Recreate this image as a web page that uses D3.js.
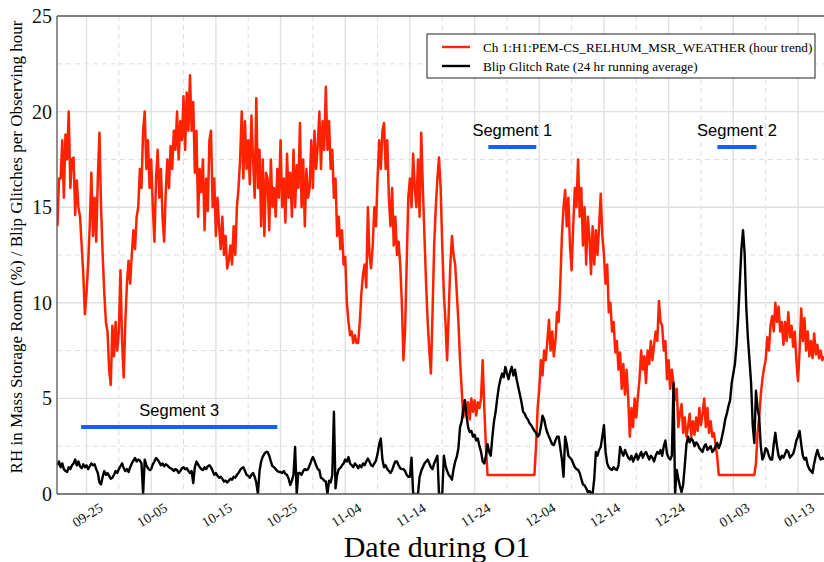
<!DOCTYPE html>
<html>
<head>
<meta charset="utf-8">
<script src="https://cdn.jsdelivr.net/npm/d3@7"></script>
<style>
  body { margin: 0; background: #fff; }
  svg { display: block; }
</style>
</head>
<body>
<svg id="chart" width="824" height="562"></svg>
<script>
// one value every 6 hours
const STEP_HOURS = 6;

// RH in mass storage room (%), hour trend
const rhSep = [ // from 09-20 12:00
  14.0, 16.5,
  16.5, 18.5, 15.5, 18.8,  17.5, 20.0, 16.0, 17.5,  17.6, 14.6, 16.4, 15.0,  14.5, 13.0, 11.5, 9.4,
  10.5, 12.0, 14.0, 16.8,  13.5, 15.5, 13.2, 16.5,  18.9, 15.0, 12.5, 10.5,  9.0, 8.5, 6.5, 5.7,
  8.8, 7.2, 9.0, 7.5,  8.5, 11.7, 8.0, 6.1
];
const rhOct = [
  9.0, 11.0, 12.2, 11.0,  12.5, 13.8, 12.8, 14.5,  15.0, 17.0, 16.0, 19.0,  20.0, 17.0, 18.5, 16.0,
  17.5, 15.0, 13.2, 16.5,  18.0, 15.5, 17.0, 14.5,  13.2, 15.8, 17.5, 16.0,  18.2, 17.0, 19.0, 18.0,
  20.0, 17.5, 19.5, 18.5,  20.8, 18.0, 21.0, 19.0,  21.9, 19.0, 20.5, 16.8,  19.0, 14.5, 17.0, 15.8,
  17.5, 13.8, 16.5, 14.8,  18.5, 19.0, 15.0, 16.5,  13.5, 15.5, 14.0, 12.8,  14.5, 12.5, 13.5, 11.8,
  12.2, 13.0, 12.0, 14.0,  12.5, 15.0, 16.0, 17.5,  20.0, 16.5, 19.5, 17.0,  18.5, 16.2, 19.8, 17.5,
  15.5, 20.7, 16.0, 18.0,  14.0, 17.5, 13.5, 16.8,  16.5, 13.8, 17.5, 15.0,  16.0, 14.5, 17.0, 15.5,
  18.5, 15.0, 16.5, 14.2,  17.8, 15.5, 16.8, 14.5,  18.0, 15.0, 17.2, 16.0,  19.4, 15.0, 17.5, 14.0,
  17.0, 15.5, 16.0, 18.5,  16.0, 19.0, 17.0, 18.2,  20.0, 17.0, 19.5, 18.0
];
const rhNov = [
  21.3, 18.0, 19.5, 17.0,  18.0, 15.5, 16.5, 13.5,  14.5, 12.8, 13.8, 12.0,  12.4, 10.0, 9.0, 8.3,
  8.5, 7.9, 8.3, 7.9,  7.9, 9.0, 10.5, 11.5,  12.0, 10.8, 15.0, 12.5,  11.8, 13.0, 15.0, 14.0,
  16.5, 18.5, 17.0, 19.0,  19.4, 17.0, 18.5, 15.5,  14.0, 16.0, 13.0, 14.5,  12.5, 13.2, 12.0, 10.0,
  7.0, 8.5, 12.0, 15.5,  16.5, 15.0, 17.8, 16.0,  15.0, 17.5, 14.5, 18.9,  16.0, 13.5, 11.0, 9.0,
  7.5, 6.3, 9.5, 13.0,  15.0, 16.5, 17.6, 16.0,  13.0, 10.5, 9.0, 7.0,  9.5, 12.0, 13.5, 12.5,
  12.0, 10.5, 9.0, 7.0,  5.5, 4.0, 4.9, 4.2,  4.8, 3.9, 5.0, 4.3,  4.9, 4.1, 4.8, 4.5,
  5.0, 7.0, 4.5, 2.5,  1.0, 1.0, 1.0, 1.0,  1.0, 1.0, 1.0, 1.0,  1.0, 1.0, 1.0, 1.0,
  1.0, 1.0, 1.0, 1.0,  1.0, 1.0, 1.0, 1.0
];
const rhDec = [
  1.0, 1.0, 1.0, 1.0,  1.0, 1.0, 1.0, 1.0,  1.0, 1.0, 2.5, 4.5,  5.5, 7.0, 6.2, 7.5,
  7.0, 8.0, 9.1, 7.5,  8.5, 7.2, 8.0, 9.5,  9.0, 11.0, 13.5, 15.0,  15.9, 14.0, 15.5, 13.0,
  11.7, 14.0, 16.0, 15.0,  17.5, 14.5, 16.0, 13.0,  15.0, 12.0, 14.5, 13.5,  11.5, 14.0, 12.0, 13.8,
  12.5, 14.0, 15.7, 13.5,  12.5, 11.0, 12.0, 9.5,  10.0, 8.5, 9.0, 7.4,  8.0, 6.5, 7.4, 5.5,
  6.8, 5.2, 6.5, 5.0,  3.0, 4.5, 3.5, 5.0,  4.0, 5.1, 6.0, 7.5,  6.5, 7.2, 5.8, 7.5,
  6.8, 8.0, 7.0, 7.8,  8.5, 8.0, 10.1, 9.0,  8.8, 7.5, 8.0, 6.0,  7.0, 5.5, 6.5, 5.8,
  4.9, 5.5, 3.5, 4.2,  4.7, 3.2, 4.0, 3.0,  3.5, 4.2, 3.0, 3.8,  3.1, 4.0, 3.3, 4.5,
  3.6, 4.2, 5.0, 3.5,  4.5, 3.2, 3.8, 3.0,  3.2, 2.6, 2.0, 1.0
];
const rhJan = [
  1.0, 1.0, 1.0, 1.0,  1.0, 1.0, 1.0, 1.0,  1.0, 1.0, 1.0, 1.0,  1.0, 1.0, 1.0, 1.0,
  1.0, 1.0, 1.0, 1.0,  1.0, 1.0, 1.6, 3.2,  4.0, 5.2, 6.0, 6.6,  7.0, 8.2, 7.5, 8.8,
  9.3, 8.5, 10.0, 9.0,  9.8, 8.5, 9.0, 7.8,  9.0, 8.0, 9.5, 8.2,  8.8, 7.7, 8.5, 7.0,
  5.9, 7.5, 9.7, 8.0,  9.2, 7.5, 8.5, 7.2,  8.0, 7.1, 8.4, 7.3,  7.8, 7.1, 7.5, 7.0,
  7.2
];

// blip glitches per observing hour, 24 hr running average
const blipSep = [
  1.5, 1.7,
  1.4, 1.6, 1.3, 1.2,  1.15, 1.4, 1.3, 1.5,  1.6, 1.8, 1.5, 1.7,  1.45, 1.35, 1.55, 1.4,
  1.5, 1.3, 1.45, 1.6,  1.5, 1.55, 1.3, 1.1,  0.6, 0.5, 0.9, 1.2,  1.0, 1.1, 0.95, 0.8,
  0.85, 1.0, 1.2, 1.1,  1.3, 1.45, 1.6, 1.35
];
const blipOct = [
  1.2, 1.3, 1.15, 1.4,  1.6, 1.75, 1.88, 1.7,  1.8, 1.75, 1.6, 0.0,  1.8, 1.5, 1.35, 1.25,
  1.3, 1.55, 1.7, 1.88,  1.8, 1.65, 1.5, 1.6,  1.45, 1.55, 1.5, 1.4,  1.35, 1.3, 1.2, 1.3,
  1.25, 1.1, 1.2, 1.35,  1.4, 1.3, 1.35, 1.2,  1.1, 1.2, 0.57, 1.4,  1.7, 1.55, 1.4, 1.3,
  1.25, 1.4, 1.3, 1.45,  1.5, 1.4, 1.2, 1.0,  1.1, 0.95, 0.85, 0.9,  0.8, 0.65, 0.7, 0.6,
  0.7, 0.8, 0.75, 0.9,  0.85, 1.0, 1.1, 1.25,  1.35, 1.4, 1.2, 1.0,  0.95, 0.85, 1.0, 1.1,
  0.9, 0.6, 0.0, 1.2,  1.7, 1.95, 2.1, 2.2,  2.2, 2.0, 1.7, 1.45,  1.4, 1.3, 1.2, 1.15,
  1.15, 1.1, 1.2, 1.05,  1.0, 0.8, 0.47, 0.7,  1.0, 2.46, 0.0, 1.1,  1.1, 1.0, 1.2, 1.3,
  1.25, 1.3, 1.5, 1.75,  1.93, 1.75, 1.5, 1.3,  1.25, 0.84, 0.8, 0.7
];
const blipNov = [
  0.65, 0.0, 0.7, 0.6,  1.0, 4.3, 0.3, 1.0,  1.3, 1.36, 1.5, 1.6,  1.8, 1.7, 1.93, 1.6,
  1.5, 1.4, 1.6, 1.5,  1.35, 1.5, 1.4, 1.6,  1.5, 1.7, 1.85, 1.7,  1.5, 1.45, 1.6, 1.75,
  2.1, 2.6, 2.9, 1.8,  1.4, 1.5, 1.3, 1.2,  1.1, 1.25, 1.5, 1.7,  1.7, 1.5, 1.35, 1.3,
  1.3, 1.2, 1.0, 0.9,  0.9, 1.9, 0.0, 0.0,  0.0, 0.0, 0.9, 1.2,  1.4, 1.6, 1.7, 1.8,
  1.6, 1.4, 1.3, 1.6,  1.8, 2.0, 0.0, 0.0,  0.0, 2.0, 1.5, 1.2,  1.0, 0.9, 0.75, 1.3,
  1.7, 1.95, 2.4, 3.5,  3.8, 4.4, 4.9, 4.1,  3.5, 3.24, 3.3, 3.0,  3.1, 2.8, 2.9, 2.5,
  2.2, 1.7, 1.6, 2.0,  2.6, 2.2, 2.0, 3.0,  3.8, 4.3, 5.0, 5.6,  6.0, 6.3, 6.1, 6.65,
  6.3, 6.0, 6.4, 6.65,  6.2, 6.5, 6.0, 5.6
];
const blipDec = [
  5.2, 4.8, 4.3, 4.2,  4.0, 3.9, 3.7, 3.6,  3.45, 3.3, 3.2, 3.0,  3.1, 3.5, 4.1, 3.9,
  3.5, 3.2, 3.0, 2.8,  2.6, 2.56, 2.8, 3.0,  3.0, 2.4, 1.8, 0.9,  3.0, 2.6, 2.0, 1.9,
  1.8, 1.6, 1.4, 1.3,  1.26, 1.1, 0.8, 0.5,  0.45, 0.3, 0.1, 0.15,  0.05, 0.0, 0.8, 2.2,
  2.0, 2.3, 2.46, 3.0,  3.6, 2.2, 1.6, 1.4,  1.3, 1.26, 1.4, 1.3,  1.26, 1.5, 2.46, 2.2,
  2.0, 2.3, 2.1, 1.9,  1.8, 2.0, 1.7, 1.9,  2.1, 1.8, 2.0, 2.2,  1.9, 2.1, 2.2, 2.0,
  1.8, 2.0, 1.9, 1.7,  2.0, 2.2, 2.1, 2.3,  2.0, 2.5, 2.8, 2.1,  1.9, 1.8, 2.0, 5.8,
  0.0, 1.26, 0.8, 0.4,  0.1, 0.5, 1.5, 2.6,  3.0, 2.7, 2.9, 2.8,  2.5, 2.7, 2.6, 2.4,
  2.3, 2.2, 2.5, 2.6,  2.3, 2.4, 2.5, 2.2,  2.3, 2.5, 2.67, 2.4
];
const blipJan = [
  2.6, 3.0, 3.4, 3.9,  4.2, 4.6, 4.9, 5.8,  6.3, 6.8, 7.8, 9.2,  11.0, 12.8, 13.8, 12.6,
  9.8, 8.2, 7.0, 5.8,  3.6, 2.66, 5.4, 4.5,  4.0, 2.5, 1.8, 2.0,  2.4, 2.3, 2.0, 1.8,
  1.8, 2.6, 3.2, 2.5,  2.0, 1.8, 2.0, 1.9,  2.1, 2.3, 2.2, 1.9,  2.0, 2.1, 2.4, 2.8,
  3.0, 3.3, 2.6, 2.0,  1.8, 1.9, 1.5, 1.3,  1.2, 1.1, 1.6, 2.0,  2.3, 2.0, 1.8, 1.9,
  1.8
];

const monthStarts = ["2015-09-20T12:00Z", "2015-10-01T00:00Z", "2015-11-01T00:00Z",
                     "2015-12-01T00:00Z", "2016-01-01T00:00Z"];

const xTickLabels = ["2015-09-25", "2015-10-05", "2015-10-15", "2015-10-25", "2015-11-04", "2015-11-14",
                     "2015-11-24", "2015-12-04", "2015-12-14", "2015-12-24", "2016-01-03", "2016-01-13"];
const yTicks = [0, 5, 10, 15, 20, 25];

const segNames = ["Segment 1", "Segment 2", "Segment 3"];
const segStart = ["2015-11-26T03:00Z", "2015-12-31T13:00Z", "2015-09-24T04:00Z"];
const segEnd = ["2015-12-03T13:00Z", "2016-01-06T14:00Z", "2015-10-24T12:00Z"];
const segLevel = [18.15, 18.15, 3.5];

const legendLabels = ["Ch 1:H1:PEM-CS_RELHUM_MSR_WEATHER (hour trend)",
                      "Blip Glitch Rate (24 hr running average)"];

function toSeries(months) {
  const out = [];
  months.forEach((vals, m) => {
    const t0 = +new Date(monthStarts[m]);
    vals.forEach((v, i) => out.push({ date: new Date(t0 + i * STEP_HOURS * 3600e3), value: v }));
  });
  return out;
}
const rh = toSeries([rhSep, rhOct, rhNov, rhDec, rhJan]);
const blip = toSeries([blipSep, blipOct, blipNov, blipDec, blipJan]);

const margin = { top: 16, right: 0, bottom: 68, left: 57 };
const W = 824, H = 562;
const svg = d3.select("#chart");

const x = d3.scaleUtc()
  .domain([new Date("2015-09-20T10:30Z"), new Date("2016-01-17T00:30Z")])
  .range([margin.left, W - margin.right]);
const y = d3.scaleLinear().domain([0, 25]).range([H - margin.bottom, margin.top]);

const majorX = xTickLabels.map(d => new Date(d + "T00:00Z"));
const minorX = majorX.map(d => d3.utcDay.offset(d, 5)).concat([d3.utcDay.offset(majorX[0], -5)])
  .filter(d => x(d) > margin.left && x(d) < W);
const minorY = yTicks.slice(0, -1).map(v => v + 2.5);

// grid
const grid = svg.append("g");
grid.selectAll(".gxm").data(minorX).enter().append("line")
  .attr("x1", d => x(d)).attr("x2", d => x(d))
  .attr("y1", margin.top).attr("y2", H - margin.bottom)
  .attr("stroke", "#dedede").attr("stroke-dasharray", "5,4");
grid.selectAll(".gym").data(minorY).enter().append("line")
  .attr("x1", margin.left).attr("x2", W)
  .attr("y1", d => y(d)).attr("y2", d => y(d))
  .attr("stroke", "#dedede").attr("stroke-dasharray", "5,4");
grid.selectAll(".gx").data(majorX).enter().append("line")
  .attr("x1", d => x(d)).attr("x2", d => x(d))
  .attr("y1", margin.top).attr("y2", H - margin.bottom)
  .attr("stroke", "#e0e0e0").attr("stroke-width", 1.4);
grid.selectAll(".gy").data(yTicks.slice(1, -1)).enter().append("line")
  .attr("x1", margin.left).attr("x2", W)
  .attr("y1", d => y(d)).attr("y2", d => y(d))
  .attr("stroke", "#e0e0e0").attr("stroke-width", 1.4);

// clip
svg.append("clipPath").attr("id", "clip").append("rect")
  .attr("x", margin.left).attr("y", margin.top)
  .attr("width", W - margin.left).attr("height", H - margin.top - margin.bottom);

const line = d3.line().x(d => x(d.date)).y(d => y(d.value));
const plot = svg.append("g").attr("clip-path", "url(#clip)");
plot.append("path").datum(rh).attr("d", line)
  .attr("fill", "none").attr("stroke", "#ff2200").attr("stroke-width", 2.5)
  .attr("stroke-linejoin", "round");
plot.append("path").datum(blip).attr("d", line)
  .attr("fill", "none").attr("stroke", "#000").attr("stroke-width", 2.4)
  .attr("stroke-linejoin", "round");

// segment bars
segNames.forEach((name, i) => {
  const x0 = x(new Date(segStart[i])), x1 = x(new Date(segEnd[i])), yy = y(segLevel[i]);
  svg.append("line").attr("x1", x0).attr("x2", x1).attr("y1", yy).attr("y2", yy)
    .attr("stroke", "#0f62ff").attr("stroke-width", 4);
  svg.append("text").attr("x", (x0 + x1) / 2).attr("y", yy - 11)
    .attr("text-anchor", "middle")
    .style("font-family", "'Liberation Sans', Arial, sans-serif").style("font-size", "16.5px")
    .text(name);
});

// axes frame
const frame = svg.append("g").attr("stroke", "#555").attr("stroke-width", 1.3);
frame.append("line").attr("x1", margin.left).attr("x2", W).attr("y1", margin.top).attr("y2", margin.top);
frame.append("line").attr("x1", margin.left).attr("x2", margin.left).attr("y1", margin.top).attr("y2", H - margin.bottom);
frame.append("line").attr("x1", margin.left).attr("x2", W).attr("y1", H - margin.bottom).attr("y2", H - margin.bottom);

const serif = "'Liberation Serif', 'Times New Roman', serif";

// y axis
const yAxis = svg.append("g").attr("transform", `translate(${margin.left},0)`)
  .call(d3.axisLeft(y).tickValues(yTicks).tickSize(0).tickPadding(5));
yAxis.select(".domain").remove();
yAxis.selectAll("text").style("font-family", serif).style("font-size", "20px").attr("fill", "#111");

// x axis
const xAxis = svg.append("g").attr("transform", `translate(0,${H - margin.bottom})`)
  .call(d3.axisBottom(x).tickValues(majorX).tickSize(0).tickFormat(d3.utcFormat("%m-%d")));
xAxis.select(".domain").remove();
xAxis.selectAll("text")
  .style("font-family", serif).style("font-size", "14px").attr("fill", "#111")
  .attr("text-anchor", "middle").attr("dy", null).attr("y", 0)
  .attr("transform", "translate(3,25) rotate(-32)");

// axis titles
svg.append("text").attr("x", 437).attr("y", 557).attr("text-anchor", "middle")
  .style("font-family", serif).style("font-size", "30px").text("Date during O1");
svg.append("text").attr("transform", "translate(22,247) rotate(-90)").attr("text-anchor", "middle")
  .style("font-family", serif).style("font-size", "17px")
  .text("RH in Mass Storage Room (%) / Blip Glitches per Observing hour");

// legend
const lg = svg.append("g").attr("transform", "translate(427,34)");
lg.append("rect").attr("width", 388).attr("height", 44)
  .attr("fill", "#fff").attr("stroke", "#222").attr("stroke-width", 1);
const legendColors = ["#ff2200", "#000"];
legendLabels.forEach((lab, i) => {
  const yy = 13 + i * 19;
  lg.append("line").attr("x1", 15).attr("x2", 43).attr("y1", yy).attr("y2", yy)
    .attr("stroke", legendColors[i]).attr("stroke-width", 2.4);
  lg.append("text").attr("x", 56).attr("y", yy + 4.5)
    .style("font-family", serif).style("font-size", "13.2px").text(lab);
});
</script>
</body>
</html>
